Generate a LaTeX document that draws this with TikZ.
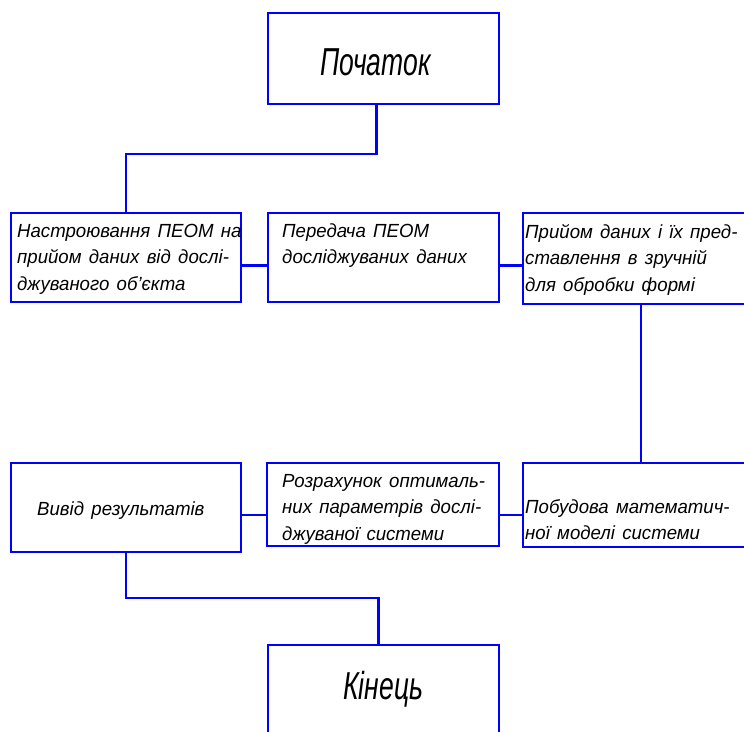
\documentclass[tikz,border=0pt]{standalone}
\usepackage{fontspec}
\setmainfont{Liberation Sans}[FakeStretch=0.98]
\newfontfamily\titlefont{Liberation Sans}[FakeStretch=0.68]
\newcommand\wordsp{\spaceskip=7.3pt plus 2pt\relax}
\newcommand\txtlines[1]{\vtop{\wordsp\baselineskip=26.7pt\lineskiplimit=-50pt\halign{##\hfil\cr#1\crcr}}}
\begin{document}
\begin{tikzpicture}[x=1pt,y=-1pt,
  blk/.style={draw=blue, line width=2.2pt, inner sep=0pt, outer sep=0pt, anchor=north west},
  conn/.style={draw=blue, line width=2.2pt},
  boxtxt/.style={anchor=base west, inner sep=0pt, font=\fontsize{19}{26.7}\selectfont\itshape},
  bigtxt/.style={anchor=base west, inner sep=0pt, font=\titlefont\fontsize{39}{44}\selectfont\itshape}]
\useasboundingbox (0,0) rectangle (744,731);
% boxes
\node[blk, minimum width=231pt, minimum height=91pt] (start) at (268,13) {};
\node[blk, minimum width=230pt, minimum height=89pt] (b1) at (11,213) {};
\node[blk, minimum width=231pt, minimum height=89pt] (b2) at (268,213) {};
\node[blk, minimum width=230pt, minimum height=91pt] (b3) at (523,213) {};
\node[blk, minimum width=230pt, minimum height=89pt] (b4) at (11,463) {};
\node[blk, minimum width=232pt, minimum height=83pt] (b5) at (267,463) {};
\node[blk, minimum width=230pt, minimum height=84pt] (b6) at (523,463) {};
\node[blk, minimum width=231pt, minimum height=100pt] (end) at (268,645) {};
% texts
\node[bigtxt] (tstart) at (320,75) {Початок};
\node[bigtxt] (tend) at (343,699) {Кінець};
\node[boxtxt] (t1) at (17,237) {\txtlines{Настроювання ПЕОМ на\cr прийом даних від дослі-\cr джуваного об’єкта}};
\node[boxtxt] (t2) at (282,237) {\txtlines{Передача ПЕОМ\cr досліджуваних даних}};
\node[boxtxt] (t3) at (525,238) {\txtlines{Прийом даних і їх пред-\cr ставлення в зручній\cr для обробки формі}};
\node[boxtxt] (t4) at (37,515) {\wordsp Вивід результатів};
\node[boxtxt] (t5) at (282,487) {\txtlines{Розрахунок оптималь-\cr них параметрів дослі-\cr джуваної системи}};
\node[boxtxt] (t6) at (525,513) {\txtlines{Побудова математич-\cr ної моделі системи}};
% connectors
\draw[conn] ([xshift=-7pt]start.south) -- ++(0,50) -| (b1.north);
\draw[conn] ([yshift=-8pt]b1.east) -- ([yshift=-8pt]b1.east -| b2.west);
\draw[conn] ([yshift=-8pt]b2.east) -- ([yshift=-8pt]b2.east -| b3.west);
\draw[conn] ([xshift=3pt]b3.south) -- ([xshift=3pt]b3.south |- b6.north);
\draw[conn] ([yshift=-10pt]b6.west) -- ([yshift=-10pt]b6.west -| b5.east);
\draw[conn] ([yshift=-10pt]b6.west -| b5.west) -- ([yshift=-10pt]b6.west -| b4.east);
\draw[conn] (b4.south) -- ++(0,46) -| ([xshift=-5pt]end.north);
\end{tikzpicture}
\end{document}
